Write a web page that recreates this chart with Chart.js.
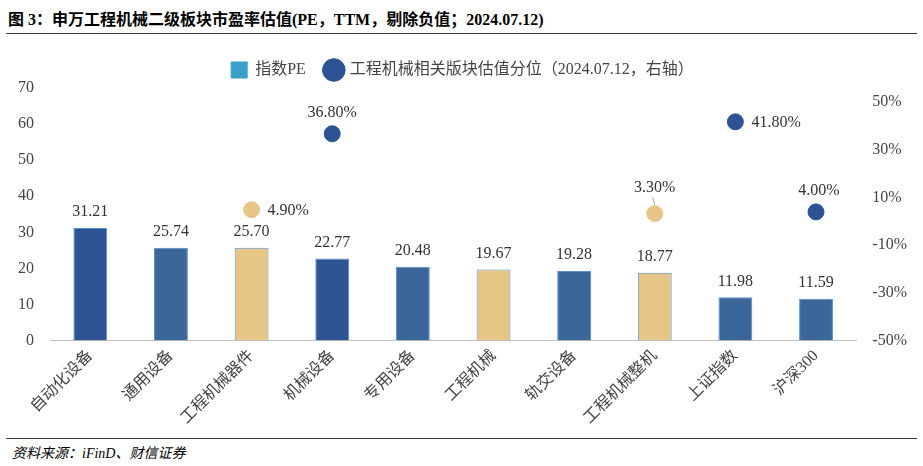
<!DOCTYPE html><html><head><meta charset="utf-8">
<script src="https://cdn.jsdelivr.net/npm/chart.js@4"></script>
<style>
body{margin:0;width:923px;height:466px;background:#fff;font-family:"Liberation Serif","Noto Sans CJK SC";}
#t{position:absolute;left:8px;top:6px;font-size:16px;font-weight:bold;color:#000;font-family:"Liberation Serif","Noto Sans CJK SC";}
#l1{position:absolute;left:6px;right:6px;top:33px;border-top:1.5px solid #333;}
#l2{position:absolute;left:6px;right:6px;top:438px;border-top:1px solid #333;}
#s{position:absolute;left:12px;top:442px;font-size:14px;font-style:italic;color:#000;}
#w{position:absolute;left:10px;top:42px;width:905px;height:392px;}
</style></head><body>
<div id="t">图 3：申万工程机械二级板块市盈率估值(PE，TTM，剔除负值；2024.07.12)</div>
<div id="l1"></div>
<div id="w"><canvas id="c"></canvas></div>
<div id="l2"></div>
<div id="s">资料来源：iFinD、财信证券</div>
<script>
const categories=["自动化设备","通用设备","工程机械器件","机械设备","专用设备","工程机械","轨交设备","工程机械整机","上证指数","沪深300"];
const peValues=[31.21,25.74,25.70,22.77,20.48,19.67,19.28,18.77,11.98,11.59];
const pctValues=[null,null,4.9,36.8,null,null,null,3.3,41.8,4.0];
const leftTicks=[0,10,20,30,40,50,60,70];
const rightTicks=[-50,-30,-10,10,30,50];
const barColors=["#2E5395","#3A6699","#E5C687","#2E5395","#3A6699","#E5C687","#3A6699","#E5C687","#3A6699","#3A6699"];
const ptColors=[null,null,"#E5C687","#2E5395",null,null,null,"#E5C687","#2E5395","#2E5395"];
const F="'Liberation Serif','Noto Sans CJK SC'";
const labelPlugin={id:'lbl',afterDatasetsDraw(ch){
 const c=ch.ctx;c.save();c.font="16px "+F;c.fillStyle="#333";
 ch.getDatasetMeta(0).data.forEach((b,i)=>{c.textAlign="center";c.textBaseline="bottom";c.fillText(peValues[i].toFixed(2),b.x,b.y-8);});
 ch.getDatasetMeta(1).data.forEach((p,i)=>{const v=pctValues[i];if(v==null)return;const t=v.toFixed(2)+"%";
  if(i==2||i==8){c.textAlign="left";c.textBaseline="middle";c.fillText(t,p.x+16,p.y+1);}
  else if(i==7){c.textAlign="center";c.textBaseline="bottom";c.fillText(t,p.x,p.y-18);c.strokeStyle="#999";c.beginPath();c.moveTo(p.x-2,p.y-16);c.lineTo(p.x,p.y-9);c.stroke();}
  else{c.textAlign="center";c.textBaseline="bottom";c.fillText(t,p.x+(i==9?3:0),p.y-13);}});
 c.restore();}};
new Chart(document.getElementById('c'),{data:{labels:categories,datasets:[
 {type:'bar',label:'指数PE',data:peValues,backgroundColor:barColors,borderColor:"#5B8FD0",borderWidth:{left:1,right:1,top:1,bottom:0},barPercentage:0.42,categoryPercentage:1,yAxisID:'y',order:2,pointStyle:'rect'},
 {type:'scatter',label:'工程机械相关版块估值分位（2024.07.12，右轴）',data:pctValues,backgroundColor:ptColors,borderColor:ptColors,pointRadius:8,pointHoverRadius:8,yAxisID:'y1',order:1,pointStyle:'circle'}]},
 options:{responsive:true,maintainAspectRatio:false,animation:false,layout:{padding:{top:0,right:0,left:0,bottom:0}},
 plugins:{tooltip:{enabled:false},legend:{position:'top',labels:{usePointStyle:true,font:{family:F,size:16},color:'#444',padding:20,
  generateLabels(ch){return [{text:'指数PE',fillStyle:'#3AA0C8',strokeStyle:'#3AA0C8',pointStyle:'rect',datasetIndex:0,fontColor:'#444'},{text:'工程机械相关版块估值分位（2024.07.12，右轴）',fillStyle:'#2E5395',strokeStyle:'#2E5395',pointStyle:'circle',datasetIndex:1,fontColor:'#444'}];}}}},
 scales:{x:{type:'category',offset:true,grid:{display:false,drawTicks:false},border:{display:true,color:'#BFBFBF'},ticks:{font:{family:F,size:16},color:'#444',maxRotation:45,minRotation:45,padding:6}},
 y:{min:0,max:70,position:'left',grid:{display:false},border:{display:false},afterBuildTicks(a){a.ticks=leftTicks.map(v=>({value:v}));},ticks:{font:{family:F,size:16},color:'#444',padding:8}},
 y1:{min:-50,max:56,position:'right',grid:{display:false},border:{display:false},afterBuildTicks(a){a.ticks=rightTicks.map(v=>({value:v}));},ticks:{font:{family:F,size:16},color:'#444',padding:8,callback:v=>v+'%'}}}},
 plugins:[labelPlugin]});
</script></body></html>
